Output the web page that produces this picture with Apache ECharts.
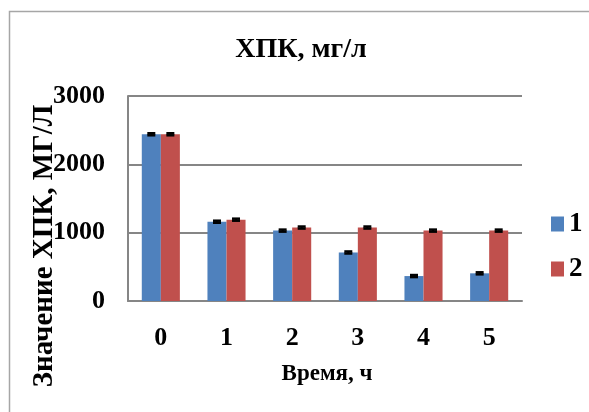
<!DOCTYPE html>
<html><head><meta charset="utf-8">
<script src="https://cdn.jsdelivr.net/npm/echarts@6/dist/echarts.min.js"></script>
<style>html,body{margin:0;padding:0;background:#fff}#c{width:589px;height:412px}</style>
</head><body><div id="c"></div>
<script>
var categories = ['0', '1', '2', '3', '4', '5'];
var series1 = [2440, 1160, 1030, 710, 365, 405];
var series2 = [2440, 1190, 1075, 1075, 1030, 1030];
var err1 = [15, 15, 15, 15, 15, 15];
var err2 = [15, 15, 15, 15, 15, 15];
var seriesNames = ['1', '2'];
var yTicks = [0, 1000, 2000, 3000];
var titleText = 'ХПК, мг/л';
var xName = 'Время, ч';
var yName = 'Значение ХПК, МГ/Л';

var FONT = '"Liberation Serif", "Times New Roman", serif';
var gapPct = 42;
function errSeries(vals, errs, side) {
  return {
    type: 'custom', z: 10, silent: true,
    data: vals.map(function (v, i) { return [i, v, errs[i]]; }),
    renderItem: function (params, api) {
      var i = api.value(0), v = api.value(1), e = api.value(2);
      var band = api.size([1, 0])[0];
      var bw = band * (1 - gapPct / 100) / 2;
      var c = api.coord([i, v]);
      var x = c[0] + side * bw / 2;
      var yTop = api.coord([i, v + e])[1];
      var yBot = api.coord([i, v - e])[1];
      var cw = 4;
      return { type: 'group', children: [
        { type: 'line', shape: { x1: x, y1: yTop, x2: x, y2: yBot }, style: { stroke: '#000', lineWidth: 2 } },
        { type: 'line', shape: { x1: x - cw, y1: yTop, x2: x + cw, y2: yTop }, style: { stroke: '#000', lineWidth: 2.5 } },
        { type: 'line', shape: { x1: x - cw, y1: yBot, x2: x + cw, y2: yBot }, style: { stroke: '#000', lineWidth: 2.5 } }
      ]};
    }
  };
}

var chart = echarts.init(document.getElementById('c'), null, { renderer: 'canvas' });
chart.setOption({
  animation: false,
  backgroundColor: '#fff',
  title: {
    text: titleText, left: 296, top: 31, textAlign: 'center',
    textStyle: { fontFamily: FONT, fontWeight: 'bold', fontSize: 28, color: '#000' }
  },
  legend: {
    orient: 'vertical', left: 551, top: 210, itemWidth: 13, itemHeight: 15, itemGap: 17,
    icon: 'rect', padding: 0,
    data: seriesNames,
    textStyle: { fontFamily: FONT, fontWeight: 'bold', fontSize: 27, color: '#000', lineHeight: 28 }
  },
  grid: { left: 128, right: 67, top: 96, bottom: 111, containLabel: false },
  xAxis: {
    type: 'category', data: categories,
    axisLine: { lineStyle: { color: '#868686', width: 2 } },
    axisTick: { show: false },
    axisLabel: { margin: 24, fontFamily: FONT, fontWeight: 'bold', fontSize: 26, color: '#000' },
    name: xName, nameLocation: 'middle', nameGap: 62,
    nameTextStyle: { fontFamily: FONT, fontWeight: 'bold', fontSize: 23, color: '#000', padding: [0, 0, 0, 4] }
  },
  yAxis: {
    type: 'value', min: 0, max: 3000, interval: 1000,
    axisLine: { show: true, lineStyle: { color: '#868686', width: 2 } },
    axisTick: { show: false },
    splitLine: { lineStyle: { color: '#868686', width: 1.8 } },
    axisLabel: {
      margin: 23, fontFamily: FONT, fontWeight: 'bold', fontSize: 26, color: '#000',
      padding: [10, 0, 0, 0],
      formatter: function (v) { return yTicks.indexOf(v) >= 0 ? String(v) : ''; }
    }
  },
  graphic: [
    { type: 'rect', silent: true, z: -1, shape: { x: 9.5, y: 11.5, width: 700, height: 500 },
      style: { fill: 'none', stroke: '#a6a6a6', lineWidth: 1.5 } },
    { type: 'text', silent: true, x: 45, y: 246, rotation: Math.PI / 2,
      style: { text: yName, font: 'bold 29px ' + FONT, fill: '#000', align: 'center', verticalAlign: 'middle' } }
  ],
  series: [
    { name: seriesNames[0], type: 'bar', data: series1, barGap: '0%', barCategoryGap: gapPct + '%',
      itemStyle: { color: '#4F81BD' } },
    { name: seriesNames[1], type: 'bar', data: series2, barGap: '0%', barCategoryGap: gapPct + '%',
      itemStyle: { color: '#C0504D' } },
    errSeries(series1, err1, -1),
    errSeries(series2, err2, 1)
  ]
});
</script></body></html>
